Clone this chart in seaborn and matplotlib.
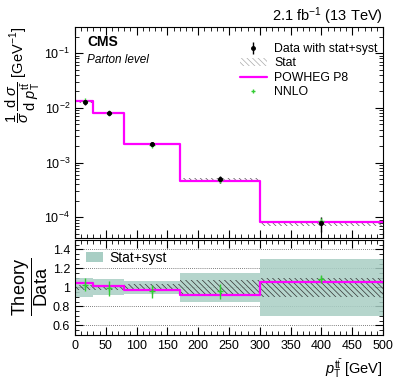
import numpy as np
import pandas as pd
import matplotlib
matplotlib.use("Agg")
import matplotlib.pyplot as plt
from matplotlib.ticker import MultipleLocator, FormatStrFormatter, LogLocator, NullFormatter
from matplotlib.patches import Patch
from matplotlib.lines import Line2D
import seaborn as sns

# ==========================
# Datos
# ==========================

bin_edges = [0, 30, 80, 170, 300, 500]
x_points = [16, 55, 125, 235, 400]

data_vals = [0.0127, 0.0080, 0.00220, 0.000493, 0.0000775]
rel_stat = [0.03, 0.03, 0.035, 0.08, 0.10]
rel_total = [0.10, 0.085, 0.07, 0.15, 0.30]

powheg_vals = [0.0133, 0.0081, 0.00214, 0.000454, 0.000082]

nnlo_ratio = [1.03, 0.99, 0.96, 0.96, 1.09]
nnlo_ratio_err = [0.07, 0.08, 0.07, 0.08, 0.04]

# ==========================
# Estilo
# ==========================

sns.set_style("ticks")
plt.rcParams["font.family"] = ["Liberation Sans", "DejaVu Sans"]
plt.rcParams["mathtext.fontset"] = "custom"
plt.rcParams["mathtext.rm"] = "Liberation Sans"
plt.rcParams["mathtext.it"] = "Liberation Sans:italic"
plt.rcParams["mathtext.bf"] = "Liberation Sans:bold"
plt.rcParams["hatch.linewidth"] = 0.5
for k in ["text.color", "axes.labelcolor", "xtick.color", "ytick.color", "axes.edgecolor"]:
    plt.rcParams[k] = "black"

edges = np.array(bin_edges, dtype=float)
data = np.array(data_vals)
stat = np.array(rel_stat)
tot = np.array(rel_total)
powheg = np.array(powheg_vals)
ratio_pw = powheg / data
nnlo_r = np.array(nnlo_ratio)
nnlo_abs = nnlo_r * data

def ext(v):
    return np.append(v, v[-1])

magenta = "#ff00ff"
green = "#33cc33"
band_col = "#a8cec4"

fig = plt.figure(figsize=(3.99, 3.85), dpi=100)
ax = fig.add_axes([0.188, 0.382, 0.772, 0.548])
axr = fig.add_axes([0.188, 0.130, 0.772, 0.247])

# ==========================
# Panel superior
# ==========================

ax.fill_between(edges, ext(data * (1 - stat)), ext(data * (1 + stat)), step="post",
                facecolor="none", edgecolor="#555555", hatch="\\\\\\\\\\\\", linewidth=0)
sns.lineplot(x=edges, y=ext(powheg), drawstyle="steps-post", color=magenta, lw=1.6, ax=ax)
ax.errorbar(x_points, nnlo_abs, yerr=nnlo_abs * np.array(nnlo_ratio_err), fmt="+",
            color=green, ms=4, mew=1, elinewidth=1, capsize=0)
data_eb = ax.errorbar(x_points, data, yerr=data * tot, fmt="o", color="black", ms=2.5,
                      elinewidth=1, capsize=0)
sns.scatterplot(x=x_points, y=data, color="black", s=9, ax=ax, zorder=5, linewidth=0)

ax.set_yscale("log")
ax.set_ylim(4.2e-5, 0.3)
ax.set_xlim(0, 500)
ax.set_xticklabels([])
ax.xaxis.set_major_locator(MultipleLocator(50))
ax.xaxis.set_minor_locator(MultipleLocator(10))
ax.yaxis.set_minor_locator(LogLocator(subs=np.arange(2, 10)))
ax.yaxis.set_minor_formatter(NullFormatter())
ax.tick_params(which="both", direction="in", top=True, right=True, labelsize=9)
ax.tick_params(which="major", length=6)
ax.tick_params(which="minor", length=3)
ax.set_ylabel(r"$\dfrac{1}{\sigma}\,\dfrac{\mathrm{d}\ \sigma}{\mathrm{d}\ p_{\mathrm{T}}^{\mathrm{t\bar{t}}}}$ [GeV$^{-1}$]",
              loc="top", fontsize=10.5, labelpad=2)

ax.text(0.04, 0.91, "CMS", transform=ax.transAxes, fontsize=10, fontweight="bold")
ax.text(0.04, 0.83, "Parton level", transform=ax.transAxes, fontsize=8.5, style="italic")
ax.text(1.0, 1.03, r"2.1 fb$^{-1}$ (13 TeV)", transform=ax.transAxes, ha="right", fontsize=10.5)

handles = [
    data_eb,
    Patch(facecolor="none", edgecolor="#aaaaaa", hatch="\\\\\\\\\\\\", linewidth=0),
    Line2D([], [], color=magenta, lw=1.6),
    Line2D([], [], color=green, marker="+", ms=3.5, lw=0),
]
labels = ["Data with stat+syst", "Stat", "POWHEG P8", "NNLO"]
ax.legend(handles, labels, loc="upper right", bbox_to_anchor=(1.01, 0.965), frameon=False,
          fontsize=8.8, handlelength=2.2, labelspacing=0.2, borderpad=0.2, handletextpad=0.6)

# ==========================
# Panel de cocientes
# ==========================

for yg in [0.6, 0.8, 1.0, 1.2, 1.4]:
    axr.axhline(yg, color="#555555", ls=(0, (1, 1.5)), lw=0.6, zorder=0)

axr.fill_between(edges, ext(1 - tot), ext(1 + tot), step="post", color=band_col, lw=0, alpha=0.85)
axr.fill_between(edges, ext(1 - stat), ext(1 + stat), step="post",
                 facecolor="none", edgecolor="#333333", hatch="\\\\\\\\\\\\", linewidth=0)
sns.lineplot(x=edges, y=ext(ratio_pw), drawstyle="steps-post", color=magenta, lw=1.6, ax=axr)
axr.errorbar(x_points, nnlo_r, yerr=nnlo_ratio_err, fmt="+", color=green, ms=4, mew=1,
             elinewidth=1, capsize=0)

axr.set_xlim(0, 500)
axr.set_ylim(0.5, 1.5)
axr.xaxis.set_major_locator(MultipleLocator(50))
axr.xaxis.set_minor_locator(MultipleLocator(10))
axr.yaxis.set_minor_locator(MultipleLocator(0.05))
axr.yaxis.set_major_formatter(FormatStrFormatter("%g"))
axr.set_yticks([0.6, 0.8, 1.0, 1.2, 1.4])
axr.tick_params(which="both", direction="in", top=True, right=True, labelsize=9)
axr.tick_params(which="major", length=6)
axr.tick_params(which="minor", length=3)
axr.set_ylabel(r"$\dfrac{\mathrm{Theory}}{\mathrm{Data}}$", fontsize=13, labelpad=2)
axr.set_xlabel(r"$p_{\mathrm{T}}^{\mathrm{t\bar{t}}}$ [GeV]", loc="right", fontsize=10.5)

axr.legend([Patch(facecolor=band_col, edgecolor="none")], ["Stat+syst"], loc="upper left",
           frameon=False, fontsize=10, handlelength=1.2, borderpad=0.3, handletextpad=0.5)

fig.savefig("out.png", dpi=100)
